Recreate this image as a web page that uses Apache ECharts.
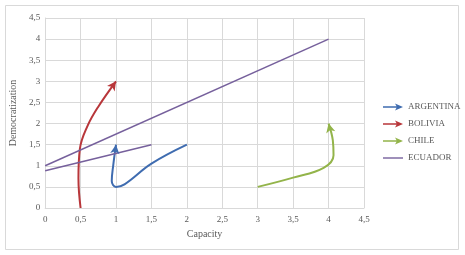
<!DOCTYPE html>
<html>
<head>
    <meta charset="utf-8">
    <script src="https://cdn.jsdelivr.net/npm/echarts@6/dist/echarts.min.js"></script>
</head>
<body style="margin:0;background:#fff;">
    <div id="main" style="width:465px;height:255px;"></div>
    <script type="text/javascript">
        var myChart = echarts.init(document.getElementById('main'));

        // axis ticks
        var ticks = [0, 0.5, 1, 1.5, 2, 2.5, 3, 3.5, 4, 4.5];

        // paths: [capacity, democratization]
        var argentina = [[2, 1.5], [1.5, 1.05], [1.12, 0.56], [1.0, 0.5], [0.94, 0.64], [0.96, 1.0], [1.0, 1.5]];
        var bolivia = [[0.5, 0], [0.47, 0.7], [0.49, 1.4], [0.6, 1.95], [0.75, 2.4], [1.0, 3.0]];
        var chile = [[3, 0.5], [3.5, 0.72], [3.93, 0.95], [4.07, 1.25], [4.06, 1.6], [4.0, 2.0]];
        var ecuadorA = [[0, 0.88], [1.5, 1.5]];
        var ecuadorB = [[0, 1], [4, 4]];

        var names = ['ARGENTINA', 'BOLIVIA', 'CHILE', 'ECUADOR'];
        var colors = ['#3f6cb0', '#b8363a', '#93b44a', '#76609c'];

        var font = 'Liberation Serif';
        var arrowIcon = 'path://M0,4.3 L15,4.3 L15,5.7 L0,5.7 Z M12,1.5 L20,5 L12,8.5 L14,5 Z';
        var plainIcon = 'path://M0,4.3 L20,4.3 L20,5.7 L0,5.7 Z';

        function fmt(v) {
            return String(v).replace('.', ',');
        }

        function withArrow(points, rot) {
            return points.map(function (p, i) {
                if (i < points.length - 1) return p;
                return { value: p, symbol: 'arrow', symbolSize: [7, 9], symbolRotate: rot || 0 };
            });
        }

        function lineSeries(name, points, color, width, arrow, rot) {
            return {
                name: name,
                type: 'line',
                smooth: 0.4,
                symbol: 'circle',
                symbolSize: 0,
                showSymbol: true,
                animation: false,
                lineStyle: { color: color, width: width },
                itemStyle: { color: color },
                data: arrow ? withArrow(points, rot) : points
            };
        }

        function buildSeries(rots) {
            return [
                lineSeries(names[0], argentina, colors[0], 2, true, rots[0]),
                lineSeries(names[1], bolivia, colors[1], 2, true, rots[1]),
                lineSeries(names[2], chile, colors[2], 2, true, rots[2]),
                lineSeries(names[3], ecuadorA, colors[3], 1.5, false),
                lineSeries(names[3], ecuadorB, colors[3], 1.5, false)
            ];
        }

        var axisCommon = {
            type: 'value',
            min: ticks[0],
            max: ticks[ticks.length - 1],
            interval: 0.5,
            nameLocation: 'middle',
            nameTextStyle: { fontFamily: font, fontSize: 10, color: '#595959' },
            axisLine: { show: true, lineStyle: { color: '#d9d9d9' } },
            axisTick: { show: false },
            splitLine: { show: true, lineStyle: { color: '#d9d9d9', width: 1 } },
            axisLabel: { fontFamily: font, fontSize: 9, color: '#595959', formatter: fmt }
        };

        var option = {
            backgroundColor: '#fff',
            color: colors,
            graphic: [{
                type: 'rect',
                shape: { x: 5.5, y: 5.5, width: 453, height: 244 },
                style: { fill: 'none', stroke: '#d9d9d9', lineWidth: 1 },
                silent: true
            }],
            grid: { left: 44, right: 101, top: 18, bottom: 47 },
            legend: {
                orient: 'vertical',
                left: 378,
                top: 97,
                itemWidth: 20,
                itemHeight: 10,
                itemGap: 7,
                textStyle: { fontFamily: font, fontSize: 9, color: '#595959', lineHeight: 10 },
                data: [
                    { name: names[0], icon: arrowIcon },
                    { name: names[1], icon: arrowIcon },
                    { name: names[2], icon: arrowIcon },
                    { name: names[3], icon: plainIcon }
                ]
            },
            xAxis: Object.assign({}, axisCommon, {
                name: 'Capacity',
                nameGap: 20,
                axisLabel: Object.assign({}, axisCommon.axisLabel, { margin: 7 })
            }),
            yAxis: Object.assign({}, axisCommon, {
                name: 'Democratization',
                nameGap: 24,
                axisLabel: Object.assign({}, axisCommon.axisLabel, { margin: 5 })
            }),
            series: buildSeries([0, 0, 0])
        };

        myChart.setOption(option);

        // point each arrowhead along the last segment, measured in pixels
        function endAngle(points) {
            var a = myChart.convertToPixel({ gridIndex: 0 }, points[points.length - 2]);
            var b = myChart.convertToPixel({ gridIndex: 0 }, points[points.length - 1]);
            var dx = b[0] - a[0], dy = b[1] - a[1];
            return Math.atan2(-dx, -dy) * 180 / Math.PI;
        }

        myChart.setOption({
            series: buildSeries([endAngle(argentina), endAngle(bolivia), endAngle(chile)])
        });
    </script>
</body>
</html>
